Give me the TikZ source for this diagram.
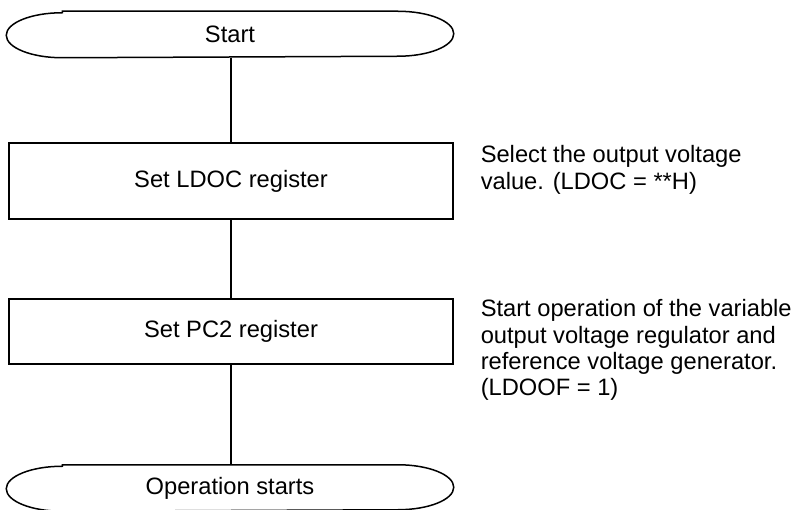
\documentclass[tikz,border=0pt]{standalone}
\usepackage{fontspec}
\setmainfont{Liberation Sans}
\newcommand\termoutline[1]{%
  \draw ([xshift=56pt]#1.north west) -- ([xshift=-56pt]#1.north east)
    arc[start angle=90,end angle=-90,x radius=56pt,y radius=22.5pt]
    -- ([xshift=56pt]#1.south west)
    arc[start angle=270,end angle=90,x radius=56pt,y radius=22.5pt] -- cycle;}
\begin{document}
\begin{tikzpicture}[x=1pt,y=-1pt,
  line width=1.5pt,
  font=\fontsize{23.7}{26.2}\selectfont,
  procbox/.style={draw, rectangle, minimum width=444pt, minimum height=#1, inner sep=0pt},
  term/.style={rectangle, minimum width=446pt, minimum height=45pt, inner sep=0pt},
  note/.style={anchor=north west, align=left, inner sep=0pt}]
\useasboundingbox (0,0) rectangle (799,510);
\node[term] (start) at (230,34.5) {Start};
\termoutline{start}
\node[procbox=76pt] (ldoc) at (231,181) {Set LDOC register};
\node[procbox=65pt, text depth=6pt] (pc2) at (231,331.5) {Set PC2 register};
\node[term] (stop) at (230,488) {Operation starts};
\termoutline{stop}
\draw (ldoc.north |- start.south) -- (ldoc.north);
\draw (ldoc.south) -- (pc2.north);
\draw (pc2.south) -- (pc2.south |- stop.north);
\node[note] (n1) at (480,145) {Select the output voltage\\value. (LDOC = **H)};
\node[note] (n2) at (480,299) {Start operation of the variable\\output voltage regulator and\\reference voltage generator.\\(LDOOF = 1)};
\end{tikzpicture}
\end{document}
